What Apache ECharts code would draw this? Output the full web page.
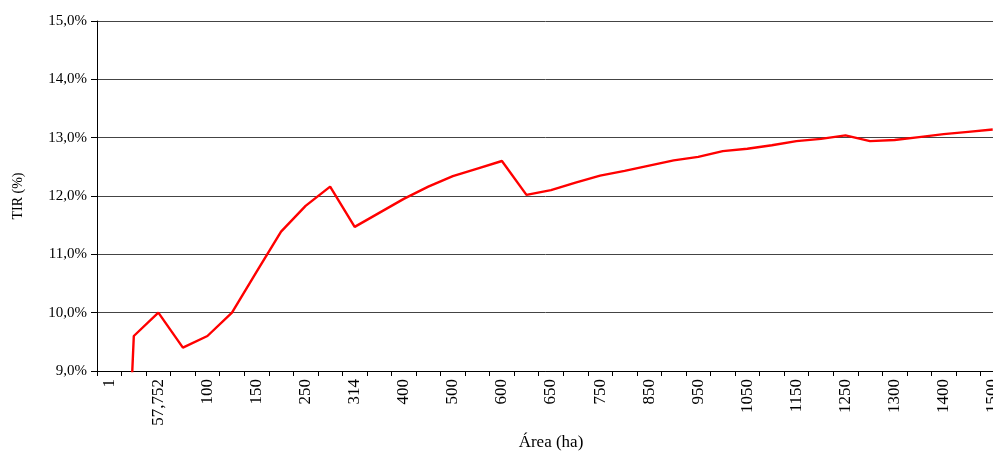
<!DOCTYPE html>
<html>
<head>
<meta charset="utf-8">
<script src="https://cdn.jsdelivr.net/npm/echarts@6/dist/echarts.min.js"></script>
<style>
html,body{margin:0;padding:0;background:#fff;}
#chart{width:993px;height:452px;}
</style>
</head>
<body>
<div id="chart"></div>
<script>
var categories = ['1','50','57,752','75','100','125','150','200','250','300','314','350','400','450','500','550','600','625','650','700','750','800','850','900','950','1000','1050','1100','1150','1200','1250','1275','1300','1350','1400','1450','1500'];
var tirValues = [0.0,9.60,10.00,9.40,9.60,10.00,10.70,11.39,11.83,12.16,11.47,11.71,11.95,12.16,12.34,12.47,12.60,12.02,12.10,12.23,12.35,12.43,12.52,12.61,12.67,12.77,12.81,12.87,12.94,12.98,13.04,12.94,12.96,13.01,13.06,13.10,13.14];
var yTicks = {min: 9, max: 15, interval: 1};

var font = 'Liberation Serif';
var chart = echarts.init(document.getElementById('chart'));
chart.setOption({
  animation: false,
  grid: {left: 97, top: 21, bottom: 81, right: -12, containLabel: false, outerBoundsMode: 'none'},
  xAxis: {
    type: 'category',
    data: categories,
    boundaryGap: true,
    name: 'Área (ha)',
    nameLocation: 'middle',
    nameGap: 62,
    nameTextStyle: {fontFamily: font, fontSize: 17, color: '#000'},
    axisLine: {lineStyle: {color: '#000', width: 1}},
    axisTick: {show: true, interval: 0, length: 5, lineStyle: {color: '#000'}},
    axisLabel: {interval: 1, rotate: 90, fontFamily: font, fontSize: 17, color: '#000', margin: 8},
    splitLine: {show: false}
  },
  yAxis: {
    type: 'value',
    min: yTicks.min, max: yTicks.max, interval: yTicks.interval,
    name: 'TIR (%)',
    nameLocation: 'middle',
    nameGap: 72,
    nameTextStyle: {fontFamily: font, fontSize: 14, color: '#000'},
    axisLine: {show: true, lineStyle: {color: '#000', width: 1}},
    axisTick: {show: true, length: 6, lineStyle: {color: '#000'}},
    axisLabel: {fontFamily: font, fontSize: 15, color: '#000', margin: 10,
      formatter: function (v) { return v.toFixed(1).replace('.', ',') + '%'; }},
    splitLine: {show: true, lineStyle: {color: '#444', width: 1}}
  },
  series: [{
    type: 'line',
    data: tirValues,
    showSymbol: false,
    symbol: 'none',
    clip: true,
    lineStyle: {color: '#ff0000', width: 2.4},
    itemStyle: {color: '#ff0000'}
  }]
});
</script>
</body>
</html>
